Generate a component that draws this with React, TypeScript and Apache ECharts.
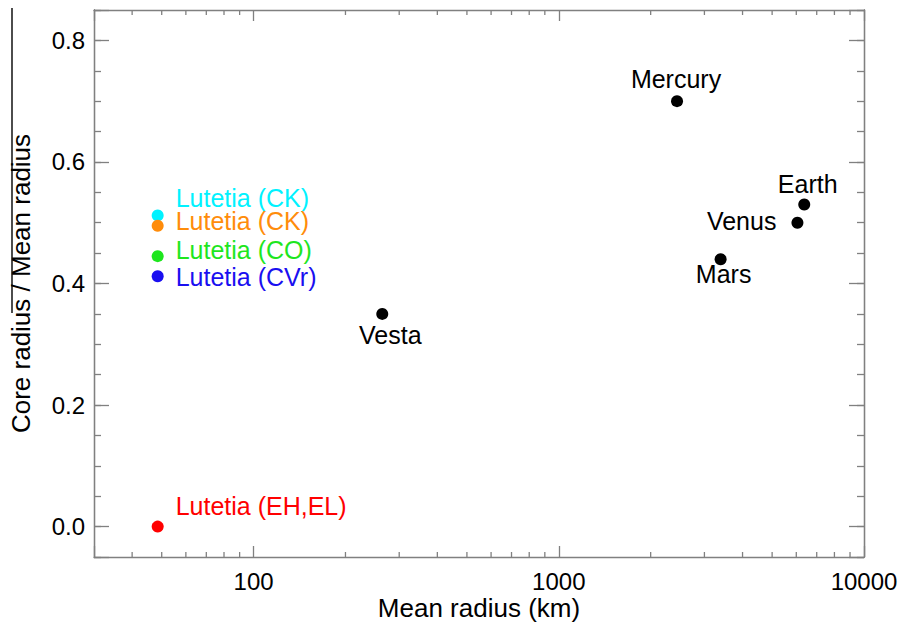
import React, { useEffect, useRef } from "react";
import * as echarts from "echarts";

// ---- data ----
const lutetiaLabels = ["Lutetia (CK)", "Lutetia (CK)", "Lutetia (CO)", "Lutetia (CVr)", "Lutetia (EH,EL)"];
const lutetiaRadius = [48.5, 48.5, 48.5, 48.5, 48.5];
const lutetiaCoreRatio = [0.512, 0.495, 0.445, 0.412, 0.0];
const bodyNames = ["Vesta", "Mercury", "Mars", "Venus", "Earth"];
const bodyRadius = [264, 2440, 3390, 6052, 6371];
const bodyCoreRatio = [0.35, 0.7, 0.44, 0.5, 0.53];
const xMinorTickValues = [40, 50, 60, 70, 80, 90, 200, 300, 400, 500, 600, 700, 800, 900, 2000, 3000, 4000, 5000, 6000, 7000, 8000, 9000];
const xRange = [30, 10000];
const yRange = [-0.05, 0.85];

// ---- styles ----
const lutetiaColors = ["#00f2ff", "#ff8c0a", "#1ee61e", "#1a0ff0", "#ff0000"];
const lutetiaLabelOffsets = [[18, -17], [18, -5], [18, -6], [18, 1], [18, -21]];
const bodyLabelStyle: any[] = [
  { align: "center", offset: [8, 21] },
  { align: "center", offset: [-1, -22] },
  { align: "center", offset: [3, 15] },
  { align: "right", offset: [-21, -2] },
  { align: "center", offset: [3.5, -20] },
];
const AXIS = "#808080";
const FONT = "'Liberation Sans', Arial, Helvetica, sans-serif";

const isPow10 = (v: number) => Math.abs(Math.log10(v) - Math.round(Math.log10(v))) < 1e-6;
const isMajorY = (v: number) => Math.abs(v / 0.2 - Math.round(v / 0.2)) < 1e-6;

export default function App() {
  const ref = useRef<HTMLDivElement>(null);
  useEffect(() => {
    document.body.style.margin = "0";
    const chart = echarts.init(ref.current!, null, { renderer: "svg" });
    const axisLine = { show: true, onZero: false, lineStyle: { color: AXIS, width: 1.3 } };
    const tickStyle = { color: AXIS, width: 1.3 };
    const baseX = {
      type: "log",
      logBase: 10,
      min: xRange[0],
      max: xRange[1],
      splitLine: { show: false },
      axisLine,
    };
    const baseY = {
      type: "value",
      min: yRange[0],
      max: yRange[1],
      splitLine: { show: false },
      axisLine,
    };
    const points: any[] = [];
    lutetiaLabels.forEach((n, i) => {
      points.push({
        name: n,
        value: [lutetiaRadius[i], lutetiaCoreRatio[i]],
        itemStyle: { color: lutetiaColors[i], opacity: 1 },
        label: {
          show: true,
          position: "inside",
          align: "left",
          verticalAlign: "middle",
          offset: lutetiaLabelOffsets[i],
          color: lutetiaColors[i],
          opacity: 1,
          formatter: "{b}",
        },
      });
    });
    bodyNames.forEach((n, i) => {
      points.push({
        name: n,
        value: [bodyRadius[i], bodyCoreRatio[i]],
        itemStyle: { color: "#000", opacity: 1 },
        label: {
          show: true,
          position: "inside",
          verticalAlign: "middle",
          align: bodyLabelStyle[i].align,
          offset: bodyLabelStyle[i].offset,
          color: "#000",
          opacity: 1,
          formatter: "{b}",
        },
      });
    });

    chart.setOption({
      animation: false,
      textStyle: { fontFamily: FONT },
      grid: { left: 94, top: 10, right: 38, bottom: 66, containLabel: false, outerBoundsMode: "none" },
      xAxis: [
        {
          ...baseX,
          position: "bottom",
          axisTick: { show: true, inside: true, length: 11, lineStyle: tickStyle },
          axisLabel: {
            margin: 12,
            fontSize: 24,
            color: "#000",
            fontFamily: FONT,
            formatter: (v: number) => (isPow10(v) ? String(Math.round(v)) : ""),
          },
          name: "Mean radius (km)",
          nameLocation: "middle",
          nameGap: 38,
          nameMoveOverlap: false,
          nameTextStyle: { fontSize: 26, color: "#000", fontFamily: FONT },
        },
        {
          ...baseX,
          position: "top",
          axisTick: { show: true, inside: true, length: 11, lineStyle: tickStyle },
          axisLabel: { show: false },
        },
      ],
      yAxis: [
        {
          ...baseY,
          position: "left",
          interval: 0.05,
          axisTick: { show: true, inside: true, length: 7, lineStyle: tickStyle },
          axisLabel: {
            margin: 9,
            fontSize: 24,
            color: "#000",
            fontFamily: FONT,
            formatter: (v: number) => (isMajorY(v) ? v.toFixed(1) : ""),
          },
          name: "Core radius / Mean radius",
          nameLocation: "middle",
          nameGap: 60,
          nameMoveOverlap: false,
          nameTextStyle: { fontSize: 26, color: "#000", fontFamily: FONT },
        },
        {
          ...baseY,
          position: "left",
          axisTick: { show: true, inside: true, length: 15, lineStyle: tickStyle },
          axisLabel: { show: false },
        },
        {
          ...baseY,
          position: "right",
          interval: 0.05,
          axisTick: { show: true, inside: true, length: 7, lineStyle: tickStyle },
          axisLabel: { show: false },
        },
        {
          ...baseY,
          position: "right",
          axisTick: { show: true, inside: true, length: 15, lineStyle: tickStyle },
          axisLabel: { show: false },
        },
      ],
      graphic: [
        {
          type: "line",
          shape: { x1: 12, y1: 8, x2: 12, y2: 313 },
          style: { stroke: "#000", lineWidth: 1.4 },
        },
      ],
      series: [
        {
          type: "custom",
          xAxisIndex: 0,
          yAxisIndex: 0,
          silent: true,
          clip: false,
          data: xMinorTickValues.map((v) => [v, yRange[0]]),
          encode: { x: 0, y: 1 },
          renderItem: (params: any, api: any) => {
            const v = api.value(0);
            const b = api.coord([v, yRange[0]]);
            const t = api.coord([v, yRange[1]]);
            const st = { stroke: AXIS, lineWidth: 1.3 };
            return {
              type: "group",
              children: [
                { type: "line", shape: { x1: b[0], y1: b[1], x2: b[0], y2: b[1] - 5 }, style: st },
                { type: "line", shape: { x1: t[0], y1: t[1], x2: t[0], y2: t[1] + 5 }, style: st },
              ],
            };
          },
        },
        {
          type: "scatter",
          xAxisIndex: 0,
          yAxisIndex: 0,
          symbol: "circle",
          symbolSize: 12,
          itemStyle: { opacity: 1 },
          label: { fontSize: 25, fontFamily: FONT },
          data: points,
        },
      ],
    });
    return () => chart.dispose();
  }, []);
  return (
    <div
      ref={ref}
      style={{ position: "fixed", left: 0, top: 0, width: 902, height: 623, background: "#fff" }}
    />
  );
}
